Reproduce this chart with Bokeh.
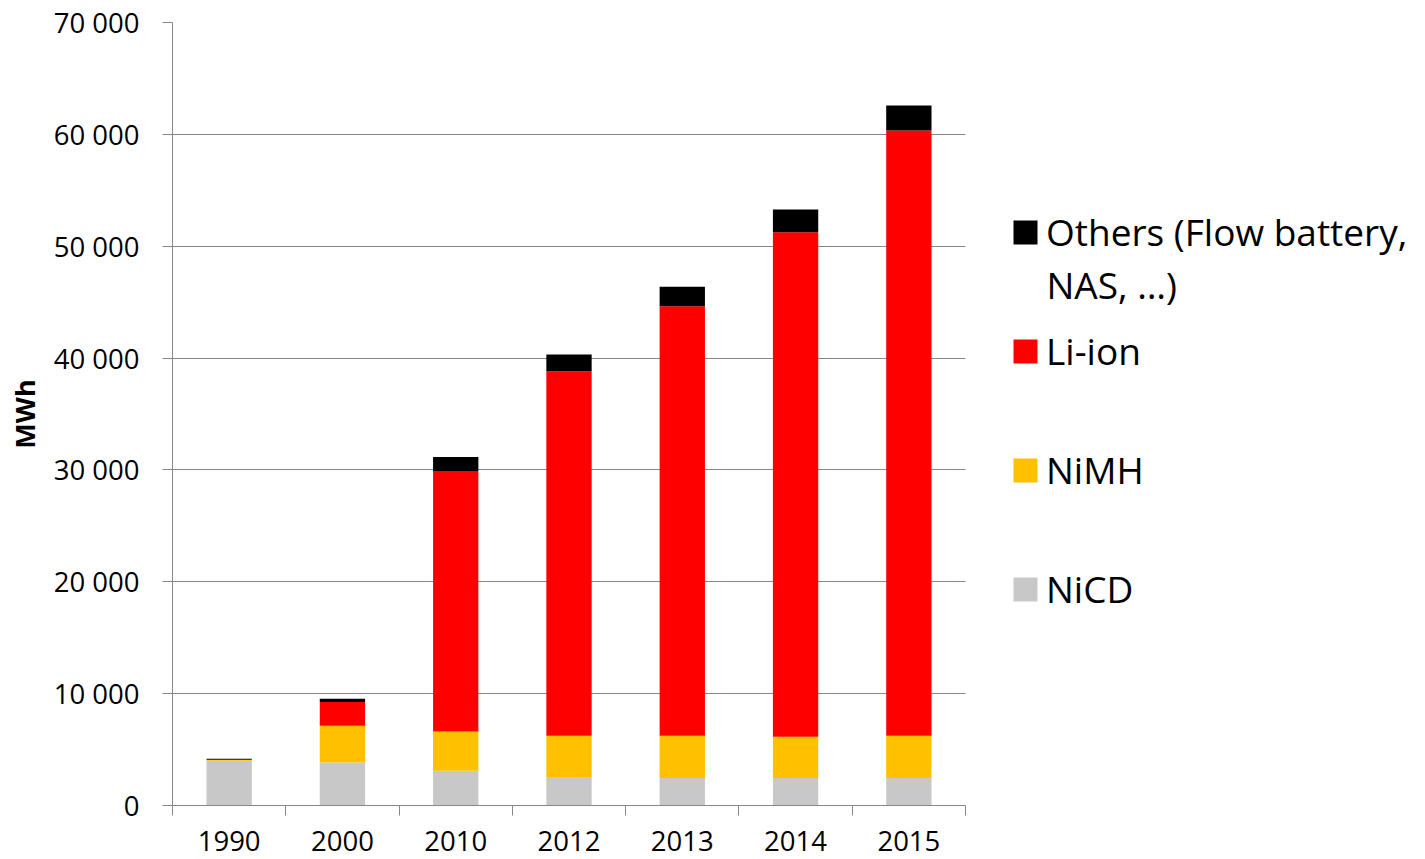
import numpy as np
from bokeh.plotting import figure
from bokeh.models import (ColumnDataSource, Range1d, FixedTicker, Legend, LegendItem,
                          BoxAnnotation, Label)
from bokeh.embed import file_html
from bokeh.resources import INLINE

# ---- data ----
years = ["1990", "2000", "2010", "2012", "2013", "2014", "2015"]
nicd = [4000, 3850, 3100, 2480, 2450, 2450, 2450]
nimh = [80, 3280, 3520, 3750, 3780, 3690, 3780]
liion = [0, 2120, 23290, 32590, 38400, 45110, 54120]
others = [100, 300, 1250, 1490, 1740, 2030, 2235]
series_keys = ["nicd", "nimh", "liion", "others"]
series_labels = ["NiCD", "NiMH", "Li-ion", "Others (Flow battery,"]
others_label_line2 = "NAS, …)"
series_colors = ["#C8C8C8", "#FFC000", "#FF0000", "#000000"]
y_ticks = [0, 10000, 20000, 30000, 40000, 50000, 60000, 70000]
y_tick_labels = ["0", "10 000", "20 000", "30 000", "40 000", "50 000", "60 000", "70 000"]

FONT = "Open Sans"
GRID = "#878787"

# ---- layout (pixels) ----
W, H = 1425, 859
LEFT, TOP, BOTTOM = 172, 22, 54
PLOT_W = 793                      # width of the category area
n = len(years)
x_end = n * (W - LEFT) / PLOT_W   # frame spans to the right edge; legend sits in the free part

x_centers = [i + 0.5 for i in range(n)]
x_bounds = list(range(n + 1))

source = ColumnDataSource(dict(x=x_centers, nicd=nicd, nimh=nimh, liion=liion, others=others))

p = figure(width=W, height=H,
           x_range=Range1d(0, x_end), y_range=Range1d(0, 70000),
           output_backend="svg", toolbar_location=None,
           min_border_left=LEFT, min_border_top=TOP, min_border_bottom=BOTTOM,
           min_border_right=0)
p.outline_line_color = None
p.background_fill_color = "white"
p.border_fill_color = "white"

renderers = p.vbar_stack(series_keys, x="x", width=0.4, source=source,
                         fill_color=series_colors, line_color=None)

# x axis: labels at category centres, ticks at category boundaries
xa = p.xaxis[0]
xa.bounds = (0, n)
xa.ticker = FixedTicker(ticks=x_centers, minor_ticks=x_bounds)
xa.major_label_overrides = {c: y for c, y in zip(x_centers, years)}
xa.major_tick_line_color = None
xa.minor_tick_line_color = GRID
xa.minor_tick_out = 10
xa.minor_tick_in = 0
xa.axis_line_color = GRID
xa.major_label_text_font = FONT
xa.major_label_text_font_size = "27.5px"
xa.major_label_text_color = "black"
xa.major_label_standoff = 15

ya = p.yaxis[0]
ya.ticker = FixedTicker(ticks=y_ticks)
ya.major_label_overrides = {t: l for t, l in zip(y_ticks, y_tick_labels)}
ya.major_tick_line_color = GRID
ya.major_tick_out = 10
ya.major_tick_in = 0
ya.minor_tick_line_color = None
ya.axis_line_color = GRID
ya.major_label_text_font = FONT
ya.major_label_text_font_size = "27.5px"
ya.major_label_text_color = "black"
ya.major_label_standoff = 23
ya.axis_label = "MWh"
ya.axis_label_text_font = FONT
ya.axis_label_text_font_style = "bold"
ya.axis_label_text_font_size = "27px"
ya.axis_label_text_color = "black"
ya.axis_label_standoff = 8

p.xgrid.visible = False
yg = p.ygrid[0]
yg.grid_line_color = GRID
if "cross_bounds" in yg.properties():
    yg.cross_bounds = (0, n)
else:
    p.add_layout(BoxAnnotation(left=n, fill_color="white", fill_alpha=1.0,
                               line_color=None))

# legend (glyph boxes are drawn with a 10% inset, so 30px -> 24px squares)
LEG_X = PLOT_W + 45
items = [LegendItem(label=series_labels[i], renderers=[renderers[i]])
         for i in reversed(range(len(series_keys)))]
legend = Legend(items=items, location=(LEG_X, 157),
                border_line_color=None, background_fill_alpha=0,
                label_text_font=FONT, label_text_font_size="37px",
                label_text_color="black",
                glyph_width=30, glyph_height=30, label_standoff=6,
                label_height=119, spacing=0, padding=0, margin=0)
p.add_layout(legend, "center")

# second line of the "Others" legend label
p.add_layout(Label(x=LEG_X + 30 + 6, y=521, x_units="screen", y_units="screen",
                   text=others_label_line2, text_font=FONT, text_font_size="37px",
                   text_color="black", text_baseline="alphabetic", text_align="left"))

open("out.html", "w").write(file_html(p, INLINE))
